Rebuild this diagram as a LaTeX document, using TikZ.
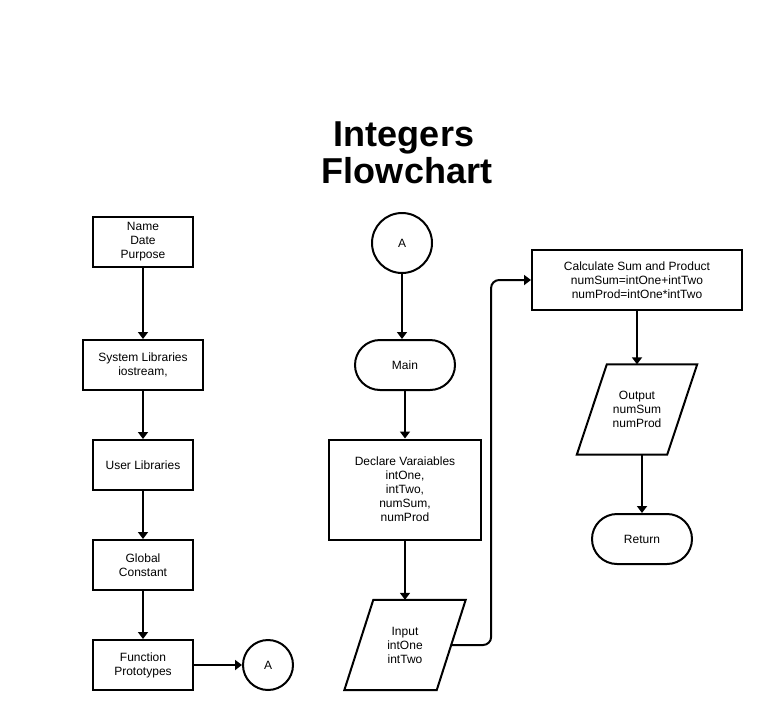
\documentclass[tikz,border=0pt]{standalone}
\usepackage{fontspec}
\setmainfont{Liberation Sans}
\usetikzlibrary{arrows.meta,calc}
\begin{document}
\begin{tikzpicture}[x=1pt,y=-1pt,
  every node/.style={font=\fontsize{12}{14}\selectfont, align=center, inner sep=0pt},
  box/.style={draw, line width=2pt, rectangle, minimum width=#1},
  term/.style={draw, line width=2pt, rectangle, rounded corners=25pt, minimum width=100pt, minimum height=50pt},
  conn/.style={draw, line width=2pt, circle, minimum size=#1},
  ghost/.style={rectangle, minimum width=#1},
  flow/.style={line width=2pt, -{Triangle[length=7pt,width=10pt]}},
  ttl/.style={font=\fontsize{36}{38}\bfseries\selectfont, anchor=base}
]
\useasboundingbox (0,0) rectangle (766,710);
\fill[white] (0,0) rectangle (766,710);

% title
\node[ttl] (t1) at (404,146) {Integers};
\node[ttl] (t2) at (407,183) {Flowchart};

% left column
\node[box=100pt, minimum height=50pt] (npd) at (143,242) {Name\\Date\\Purpose};
\node[box=120pt, minimum height=50pt] (sys) at (143,365) {System Libraries\\iostream,};
\node[box=100pt, minimum height=50pt] (usr) at (143,465) {User Libraries};
\node[box=100pt, minimum height=50pt] (glob) at (143,565) {Global\\Constant};
\node[box=100pt, minimum height=50pt] (fp) at (143,665) {Function\\Prototypes};
\node[conn=50pt] (a1) at (268,665) {A};

\draw[flow] (npd) -- (sys);
\draw[flow] (sys) -- (usr);
\draw[flow] (usr) -- (glob);
\draw[flow] (glob) -- (fp);
\draw[flow] (fp) -- (a1);

% middle column
\node[conn=60pt] (a2) at (402,243) {A};
\node[term] (main) at (405,365) {Main};
\node[box=152pt, minimum height=100pt] (decl) at (405,489.5) {Declare Varaiables\\intOne,\\intTwo,\\numSum,\\numProd};
\node[ghost=92pt, minimum height=90pt] (in) at (405,645) {Input\\intOne\\intTwo};
\draw[line width=2pt, line join=miter]
  ([xshift=14.5pt]in.north west) -- ([xshift=14.5pt]in.north east)
  -- ([xshift=-14.5pt]in.south east) -- ([xshift=-14.5pt]in.south west) -- cycle;

\draw[flow] (a2) -- (a2 |- main.north);
\draw[flow] (main) -- (decl);
\draw[flow] (decl) -- (in);

% right column
\node[box=210pt, minimum height=60pt] (calc) at (637,280) {Calculate Sum and Product\\numSum=intOne+intTwo\\numProd=intOne*intTwo};
\node[ghost=90pt, minimum height=90pt] (out) at (637,409.5) {Output\\numSum\\numProd};
\draw[line width=2pt, line join=miter]
  ([xshift=15pt]out.north west) -- ([xshift=15pt]out.north east)
  -- ([xshift=-15pt]out.south east) -- ([xshift=-15pt]out.south west) -- cycle;
\node[term] (ret) at (642,539) {Return};

\coordinate (bend) at ($(in.east)!0.5!(calc.west)$);
\draw[flow, rounded corners=8pt] (in.east) -| (bend) |- (calc.west);
\draw[flow] (calc.south -| out) -- (out.north);
\draw[flow] (ret.north |- out.south) -- (ret.north);
\end{tikzpicture}
\end{document}
